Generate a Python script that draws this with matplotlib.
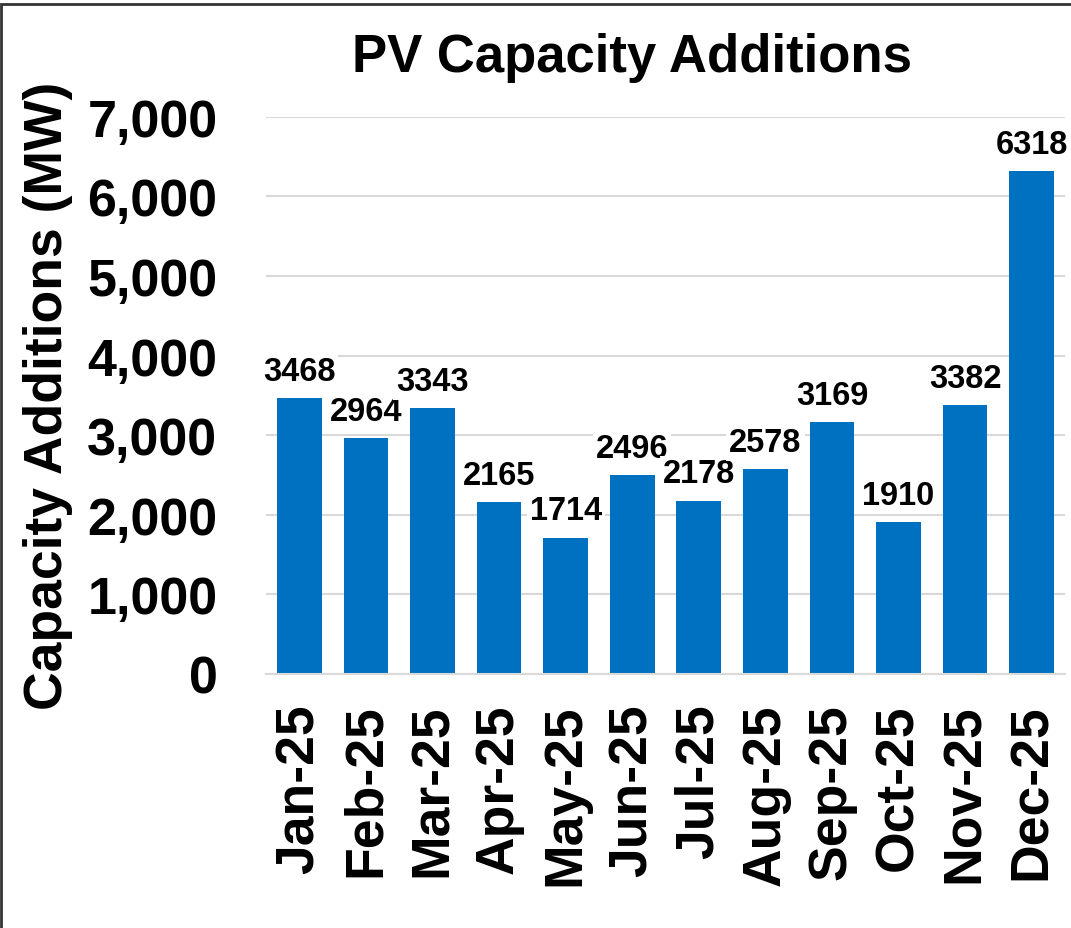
import matplotlib.pyplot as plt
from matplotlib.patches import Rectangle

months = ['Jan-25', 'Feb-25', 'Mar-25', 'Apr-25', 'May-25', 'Jun-25',
          'Jul-25', 'Aug-25', 'Sep-25', 'Oct-25', 'Nov-25', 'Dec-25']
additions = [3468, 2964, 3343, 2165, 1714, 2496, 2178, 2578, 3169, 1910, 3382, 6318]
yticks = [0, 1000, 2000, 3000, 4000, 5000, 6000, 7000]

plt.rcParams['font.family'] = ['Liberation Sans', 'DejaVu Sans']
plt.rcParams['font.weight'] = 'bold'

W, H = 1071, 929
fig = plt.figure(figsize=(W / 100, H / 100), dpi=100)
ax_left, ax_right, ax_top, ax_bottom = 266, 1065, 117.7, 675
ax = fig.add_axes([ax_left / W, 1 - ax_bottom / H, (ax_right - ax_left) / W, (ax_bottom - ax_top) / H])

x = range(len(months))
ax.bar(x, additions, width=0.67, color='#0070C0', zorder=2)

for xi, v in zip(x, additions):
    ax.annotate(str(v), (xi, v), xytext=(0, 8), textcoords='offset points',
                ha='center', va='bottom', fontsize=23.5, fontweight='bold', zorder=3,
                bbox=dict(facecolor='white', edgecolor='none', pad=2))

ax.set_xlim(-0.5, len(months) - 0.5)
ax.set_ylim(0, 7000)
ax.set_yticks(yticks)
ax.set_yticklabels([f'{t:,}' for t in yticks], fontsize=37.5, fontweight='bold')
ax.set_xticks(list(x))
ax.set_xticklabels(months, rotation=90, fontsize=38.5, fontweight='bold')
ax.tick_params(axis='both', length=0)
ax.tick_params(axis='y', pad=35)
ax.tick_params(axis='x', pad=21)

ax.grid(axis='y', color='#D9D9D9', linewidth=1.5, zorder=0)
for s in ['top', 'right', 'left']:
    ax.spines[s].set_visible(False)
ax.spines['bottom'].set_color('#D9D9D9')
ax.spines['bottom'].set_linewidth(1.5)

ax.set_ylabel('Capacity Additions (MW)', fontsize=38.5, fontweight='bold')
ax.yaxis.set_label_coords((73 - ax_left) / (ax_right - ax_left), 0.5)
fig.text(632 / W, 1 - 58 / H, 'PV Capacity Additions', ha='center', va='center',
         fontsize=38, fontweight='bold')

# frame around the image (left and top edges visible)
fig.patches.append(Rectangle((1 / W, -0.1), 1.2, 1 - 5 / H + 0.1,
                             transform=fig.transFigure, fill=False,
                             edgecolor='#333333', linewidth=2))

fig.savefig('out.png', dpi=100)
